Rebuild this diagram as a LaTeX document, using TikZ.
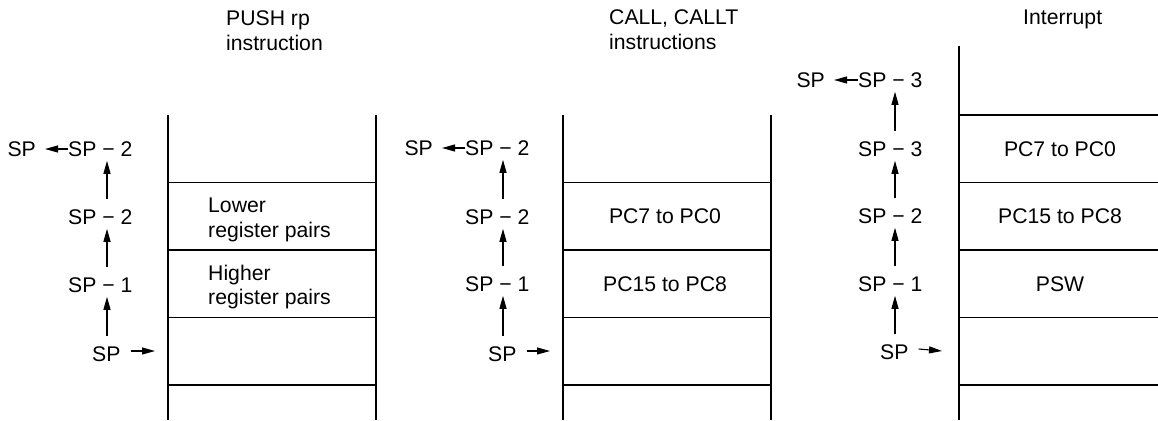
\documentclass[tikz,border=0pt]{standalone}
\usepackage{fontspec}
\setmainfont{Liberation Sans}
\usetikzlibrary{arrows.meta,calc}
\begin{document}
\begin{tikzpicture}[x=1pt,y=-1pt,
  every node/.style={inner sep=0pt, font=\fontsize{21.2}{25}\selectfont},
  lbl/.style={anchor=west, text height=15.2pt, text depth=0pt},
  cell/.style={anchor=center, text height=15.2pt, text depth=0pt},
  title/.style={anchor=base west},
  wall/.style={line width=2.4pt},
  sep/.style={line width=1.2pt},
  arr/.style={line width=1.1pt, -{Triangle[length=13pt,width=7pt]}},
]
\useasboundingbox (0,0) rectangle (1158,420);

% ---------- Panel 1: PUSH rp ----------
\node[title] (t1a) at (226,26) {PUSH rp};
\node[title] (t1b) at (226,51) {instruction};
\draw[wall] (168,115) -- (168,420);
\draw[wall] (376,115) -- (376,420);
\foreach \yy in {182.5,250,317.5,385} \draw[sep] (168,\yy) -- (376,\yy);
\node[title] (c1a) at (208,212) {Lower};
\node[title] (c1b) at (208,237) {register pairs};
\node[title] (c1c) at (208,280) {Higher};
\node[title] (c1d) at (208,304) {register pairs};

\coordinate (ax1) at (107,0);
\node[lbl] (p1top) at (68,149) {SP − 2};
\node[lbl,anchor=east] (p1sp) at (36,149) {SP};
\node[lbl] (p1a) at (68,217) {SP − 2};
\node[lbl] (p1b) at (68,285) {SP − 1};
\node[lbl] (p1c) at (92,354) {SP};
\coordinate (p1ptr) at (155,351);
\draw[arr] (p1top.west) -- ($(p1sp.east)+(9,0)$);
\draw[arr] ($(p1a.north -| ax1)+(0,-10)$) -- ($(p1top.south -| ax1)+(0,4)$);
\draw[arr] ($(p1b.north -| ax1)+(0,-10)$) -- ($(p1a.south -| ax1)+(0,4)$);
\draw[arr] ($(p1c.north -| ax1)+(0,-10)$) -- ($(p1b.south -| ax1)+(0,4)$);
\draw[arr] ($(p1c.east)+(10,-3)$) -- (p1ptr);

% ---------- Panel 2: CALL, CALLT ----------
\node[title] (t2a) at (609,25) {CALL, CALLT};
\node[title] (t2b) at (609,50) {instructions};
\draw[wall] (563,115) -- (563,420);
\draw[wall] (771,115) -- (771,420);
\foreach \yy in {182.5,250,317.5,385} \draw[sep] (563,\yy) -- (771,\yy);
\node[cell] (c2a) at (665,216) {PC7 to PC0};
\node[cell] (c2b) at (665,284) {PC15 to PC8};

\coordinate (ax2) at (503,0);
\node[lbl] (p2top) at (465,148) {SP − 2};
\node[lbl,anchor=east] (p2sp) at (433,148) {SP};
\node[lbl] (p2a) at (465,217) {SP − 2};
\node[lbl] (p2b) at (465,284) {SP − 1};
\node[lbl] (p2c) at (488,354) {SP};
\coordinate (p2ptr) at (550,351);
\draw[arr] (p2top.west) -- ($(p2sp.east)+(9,0)$);
\draw[arr] ($(p2a.north -| ax2)+(0,-10)$) -- ($(p2top.south -| ax2)+(0,4)$);
\draw[arr] ($(p2b.north -| ax2)+(0,-10)$) -- ($(p2a.south -| ax2)+(0,4)$);
\draw[arr] ($(p2c.north -| ax2)+(0,-10)$) -- ($(p2b.south -| ax2)+(0,4)$);
\draw[arr] ($(p2c.east)+(10,-3)$) -- (p2ptr);

% ---------- Panel 3: Interrupt ----------
\node[title] (t3a) at (1023,25) {Interrupt};
\draw[wall] (959,46) -- (959,420);
\foreach \yy in {115,182.5,250,317.5,385} \draw[sep] (959,\yy) -- (1158,\yy);
\node[cell] (c3a) at (1060,149) {PC7 to PC0};
\node[cell] (c3b) at (1060,216) {PC15 to PC8};
\node[cell] (c3c) at (1060,284) {PSW};

\coordinate (ax3) at (895,0);
\node[lbl] (p3top) at (858,80) {SP − 3};
\node[lbl,anchor=east] (p3sp) at (825,80) {SP};
\node[lbl] (p3a) at (858,149) {SP − 3};
\node[lbl] (p3b) at (858,216) {SP − 2};
\node[lbl] (p3c) at (858,284) {SP − 1};
\node[lbl] (p3d) at (880,352) {SP};
\coordinate (p3ptr) at (942,351);
\draw[arr] (p3top.west) -- ($(p3sp.east)+(9,0)$);
\draw[arr] ($(p3a.north -| ax3)+(0,-10)$) -- ($(p3top.south -| ax3)+(0,4)$);
\draw[arr] ($(p3b.north -| ax3)+(0,-10)$) -- ($(p3a.south -| ax3)+(0,4)$);
\draw[arr] ($(p3c.north -| ax3)+(0,-10)$) -- ($(p3b.south -| ax3)+(0,4)$);
\draw[arr] ($(p3d.north -| ax3)+(0,-10)$) -- ($(p3c.south -| ax3)+(0,4)$);
\draw[arr] ($(p3d.east)+(10,-3)$) -- (p3ptr);
\end{tikzpicture}
\end{document}
